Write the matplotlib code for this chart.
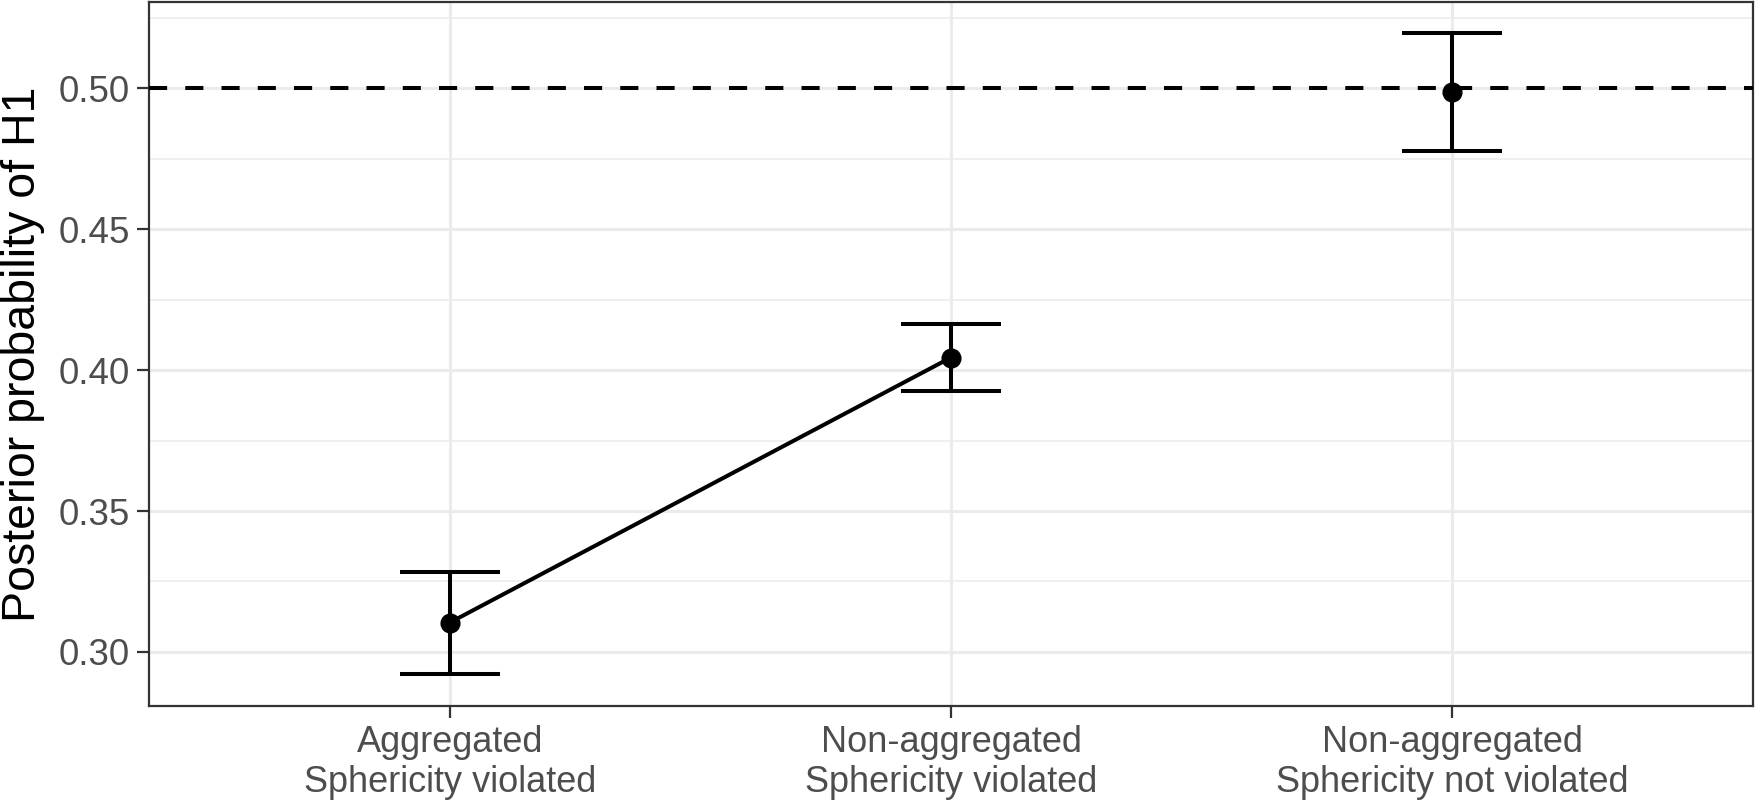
import numpy as np
import matplotlib
matplotlib.use('Agg')
import matplotlib.pyplot as plt
from matplotlib.ticker import MultipleLocator, FormatStrFormatter

# data
conditions = ['Aggregated\nSphericity violated',
              'Non-aggregated\nSphericity violated',
              'Non-aggregated\nSphericity not violated']
posterior = [0.3104, 0.4045, 0.4986]
lower = [0.2922, 0.3927, 0.4779]
upper = [0.3285, 0.4165, 0.5196]
connected = [0, 1]   # only the first two points are joined
reference = 0.50

plt.rcParams['font.family'] = ['Liberation Sans', 'DejaVu Sans']

fig = plt.figure(figsize=(17.57, 8.01), dpi=100)
ax = fig.add_axes([149 / 1757, 1 - 706 / 801, (1753 - 149) / 1757, (706 - 2) / 801])

x = np.arange(len(conditions))
y = np.array(posterior)
err = [y - np.array(lower), np.array(upper) - y]

lw = 2.9
grid_col = '#EBEBEB'
ax.axhline(reference, color='black', lw=lw, ls=(0, (4.5, 4.5)), zorder=3)
ax.plot(x[connected], y[connected], color='black', lw=lw, zorder=4)
ax.errorbar(x, y, yerr=err, fmt='none', ecolor='black', elinewidth=lw,
            capsize=36, capthick=lw, zorder=4)
ax.plot(x, y, 'o', color='black', ms=13.5, zorder=5)

ax.set_xlim(-0.6, 2.6)
ax.set_ylim(0.2808, 0.5307)
ax.set_xticks(x)
ax.set_xticklabels(conditions)
ax.yaxis.set_major_locator(MultipleLocator(0.05))
ax.yaxis.set_minor_locator(MultipleLocator(0.025))
ax.yaxis.set_major_formatter(FormatStrFormatter('%.2f'))

ax.grid(which='major', color=grid_col, lw=2.2, zorder=0)
ax.grid(which='minor', axis='y', color=grid_col, lw=1.1, zorder=0)
ax.set_axisbelow(True)

for s in ax.spines.values():
    s.set_color('#333333')
    s.set_linewidth(1.6)

ax.tick_params(which='major', length=8.5, width=1.6, color='#333333',
               labelsize=26.5, labelcolor='#4D4D4D', pad=5)
ax.tick_params(axis='x', labelsize=26)
ax.tick_params(which='minor', length=0)
ax.set_ylabel('Posterior probability of H1', fontsize=33.5, color='black', labelpad=10)

fig.savefig('out.png', dpi=100)
